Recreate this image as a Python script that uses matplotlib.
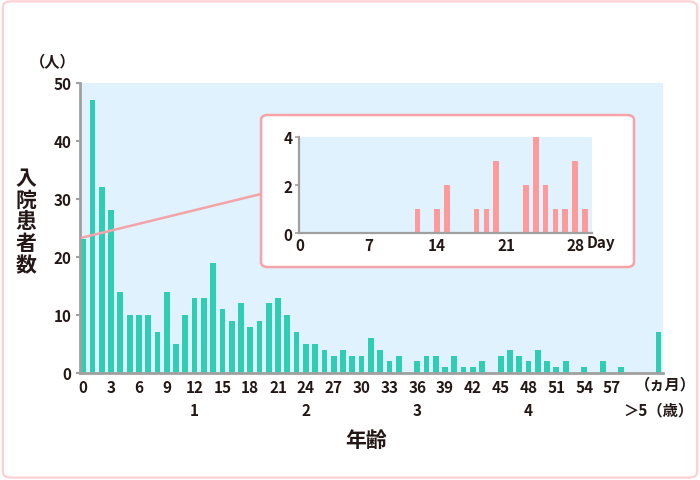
import matplotlib
matplotlib.use("Agg")
import matplotlib.pyplot as plt
from matplotlib.patches import FancyBboxPatch, ConnectionPatch

plt.rcParams['font.family'] = ['Noto Sans CJK JP', 'DejaVu Sans']

# patients by age in months (0-59), last bar is ">5 years"
months = list(range(60))
patients = [23, 47, 32, 28, 14, 10, 10, 10, 7, 14,
            5, 10, 13, 13, 19, 11, 9, 12, 8, 9,
            12, 13, 10, 7, 5, 5, 4, 3, 4, 3,
            3, 6, 4, 2, 3, 0, 2, 3, 3, 1,
            3, 1, 1, 2, 0, 3, 4, 3, 2, 4,
            2, 1, 2, 0, 1, 0, 2, 0, 1, 0]
over5_pos = 62
over5_val = 7

month_ticks = list(range(0, 58, 3))
year_pos = [12, 24, 36, 48]
year_labels = ["1", "2", "3", "4"]

# first month detail, by day
days = [12, 14, 15, 18, 19, 20, 23, 24, 25, 26, 27, 28, 29]
day_counts = [1, 1, 2, 1, 1, 3, 2, 4, 2, 1, 1, 3, 1]
day_ticks = [0, 7, 14, 21, 28]

TEAL = "#2ecdb4"
PINK = "#ff9a9a"
BOX = "#f5a3a8"
BG = "#dff2fd"
SPINE = "#a0a0a0"
TXT = "#231815"

fig = plt.figure(figsize=(7, 4.81), dpi=100)

# outer pink frame
fig.patches.append(FancyBboxPatch((0.004, 0.005), 0.992, 0.99, boxstyle="round,pad=0,rounding_size=0.012",
                                  transform=fig.transFigure, fill=False, ec="#fcd0d4", lw=1.6))

ax = fig.add_axes([0.1143, 0.2225, 0.8329, 0.6035])
ax.set_facecolor(BG)
ax.bar(months, patients, width=0.62, color=TEAL, zorder=2)
ax.bar([over5_pos], [over5_val], width=0.62, color=TEAL, zorder=2)
ax.set_xlim(-0.35, 62.5)
ax.set_ylim(0, 50)
ax.set_yticks(range(0, 51, 10))
ax.set_xticks(month_ticks)
ax.tick_params(axis='x', length=0, pad=4, labelsize=11, labelcolor=TXT)
ax.tick_params(axis='y', length=3, width=1.5, color=SPINE, pad=3, labelsize=11, labelcolor=TXT)
for lab in ax.get_xticklabels() + ax.get_yticklabels():
    lab.set_fontweight('semibold')
for s in ['top', 'right']:
    ax.spines[s].set_visible(False)
for s in ['left', 'bottom']:
    ax.spines[s].set_color(SPINE)
    ax.spines[s].set_linewidth(2)

for p, l in zip(year_pos, year_labels):
    ax.text(p, -6.3, l, ha='center', va='center', fontsize=11, fontweight='semibold', color=TXT)
ax.text(62.8, -1.85, "（ヵ月）", ha='center', va='center', fontsize=11, fontweight='semibold', color=TXT)
ax.text(62.0, -6.3, "＞5（歳）", ha='center', va='center', fontsize=11, fontweight='semibold', color=TXT)

fig.text(0.076, 0.871, "（人）", ha='center', va='center', fontsize=11, fontweight='semibold', color=TXT)
fig.text(0.037, 0.5385, "入\n院\n患\n者\n数", ha='center', va='center', fontsize=15,
         fontweight='bold', color=TXT, linespacing=1.05)
fig.text(0.523, 0.085, "年齢", ha='center', va='center', fontsize=15, fontweight='bold', color=TXT)

# inset box
fig.patches.append(FancyBboxPatch((0.3729, 0.4428), 0.5328, 0.316, boxstyle="round,pad=0,rounding_size=0.01",
                                  transform=fig.transFigure, fc="white", ec=BOX, lw=1.8, zorder=3))
con = ConnectionPatch(xyA=(-0.15, 23.3), coordsA=ax.transData, xyB=(0.3729, 0.5946), coordsB=fig.transFigure,
                      color=BOX, lw=1.8, zorder=4)
fig.add_artist(con)

ins = fig.add_axes([0.4276, 0.5129, 0.4186, 0.2008], zorder=5)
ins.set_facecolor(BG)
ins.bar(days, day_counts, width=0.58, color=PINK, zorder=2)
ins.set_xlim(0, 29.75)
ins.set_ylim(0, 4)
ins.set_yticks([0, 2, 4])
ins.set_xticks(day_ticks)
ins.tick_params(axis='x', length=0, pad=3, labelsize=11, labelcolor=TXT)
ins.tick_params(axis='y', length=3, width=1.2, color=SPINE, pad=2, labelsize=11, labelcolor=TXT)
for lab in ins.get_xticklabels() + ins.get_yticklabels():
    lab.set_fontweight('semibold')
for s in ['top', 'right']:
    ins.spines[s].set_visible(False)
for s in ['left', 'bottom']:
    ins.spines[s].set_color(SPINE)
    ins.spines[s].set_linewidth(1.6)
ins.text(30.6, -0.38, "Day", ha='center', va='center', fontsize=11, fontweight='semibold', color=TXT)

fig.savefig("out.png", dpi=100)
